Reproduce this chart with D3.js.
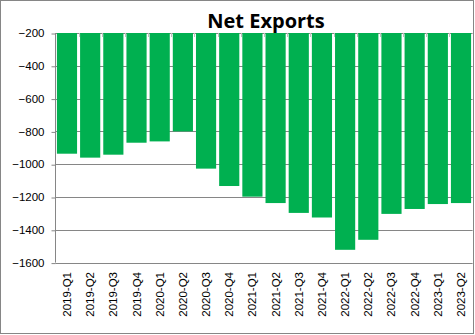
<!DOCTYPE html>
<html><head><meta charset="utf-8">
<script src="https://cdn.jsdelivr.net/npm/d3@7"></script>
<style>body{margin:0;background:#fff}svg{display:block}</style>
</head><body>
<script>
const categories = ["2019-Q1","2019-Q2","2019-Q3","2019-Q4","2020-Q1","2020-Q2","2020-Q3","2020-Q4","2021-Q1","2021-Q2","2021-Q3","2021-Q4","2022-Q1","2022-Q2","2022-Q3","2022-Q4","2023-Q1","2023-Q2"];
const values = [-936,-960,-942,-869,-861,-800,-1027,-1133,-1198,-1237,-1297,-1325,-1522,-1461,-1303,-1273,-1243,-1237];
const yTicks = [-200,-400,-600,-800,-1000,-1200,-1400,-1600];
const title = "Net Exports";

const W = 475, H = 335;
const m = {left:55.4, right:2.4, top:33, bottom:72.4};
const svg = d3.select("body").append("svg").attr("width",W).attr("height",H);

svg.append("rect").attr("x",0.5).attr("y",0.5).attr("width",473).attr("height",333)
  .attr("fill","#fff").attr("stroke","#868686").attr("stroke-width",1);

const x = d3.scaleBand().domain(categories).range([m.left, W-m.right]).paddingInner(0.13).paddingOuter(0.065);
const y = d3.scaleLinear().domain([-200,-1600]).range([m.top, H-m.bottom]);

// gridlines
svg.append("g").selectAll("line").data(yTicks).join("line")
  .attr("x1",m.left).attr("x2",W-m.right)
  .attr("y1",d=>Math.round(y(d))+0.5).attr("y2",d=>Math.round(y(d))+0.5)
  .attr("stroke","#868686").attr("stroke-width",1);

// bars
svg.append("g").selectAll("rect").data(values).join("rect")
  .attr("x",(d,i)=>x(categories[i]))
  .attr("width",x.bandwidth())
  .attr("y",y(-200))
  .attr("height",d=>y(d)-y(-200))
  .attr("fill","#00B050");

// y axis
const yAxis = d3.axisLeft(y).tickValues(yTicks).tickSize(4).tickPadding(7).tickFormat(d3.format("d"));
const gy = svg.append("g").attr("transform",`translate(${Math.round(m.left)+0.5},0)`).call(yAxis);
gy.select(".domain").attr("stroke","#868686").attr("d",`M0,${y(-200)}V${y(-1600)}`);
gy.selectAll(".tick line").attr("stroke","#868686").attr("transform","translate(0,0.5)");
gy.selectAll("text").attr("font-family","Liberation Sans, Arial, sans-serif").attr("font-size","11.5px").attr("fill","#000");

// category tick marks at top axis (between bars)
const step = x.step();
const bounds = d3.range(categories.length+1).map(i=> m.left + i*(W-m.left-m.right)/categories.length);
svg.append("g").selectAll("line").data(bounds.slice(1,-1)).join("line")
  .attr("x1",d=>Math.round(d)+0.5).attr("x2",d=>Math.round(d)+0.5)
  .attr("y1",y(-200)).attr("y2",y(-200)+4)
  .attr("stroke","#bfbfbf");

// x labels at bottom, rotated
svg.append("g").selectAll("text").data(categories).join("text")
  .attr("transform",d=>`translate(${x(d)+x.bandwidth()/2+4},272) rotate(-90)`)
  .attr("text-anchor","end")
  .attr("font-family","Liberation Sans, Arial, sans-serif").attr("font-size","11.5px")
  .attr("fill","#000")
  .text(d=>d);

// title
svg.append("text").attr("x",266).attr("y",28).attr("text-anchor","middle")
  .attr("font-family","Open Sans, Liberation Sans, sans-serif").attr("font-weight","bold")
  .attr("font-size","20px").attr("fill","#000").text(title);
</script>
</body></html>
